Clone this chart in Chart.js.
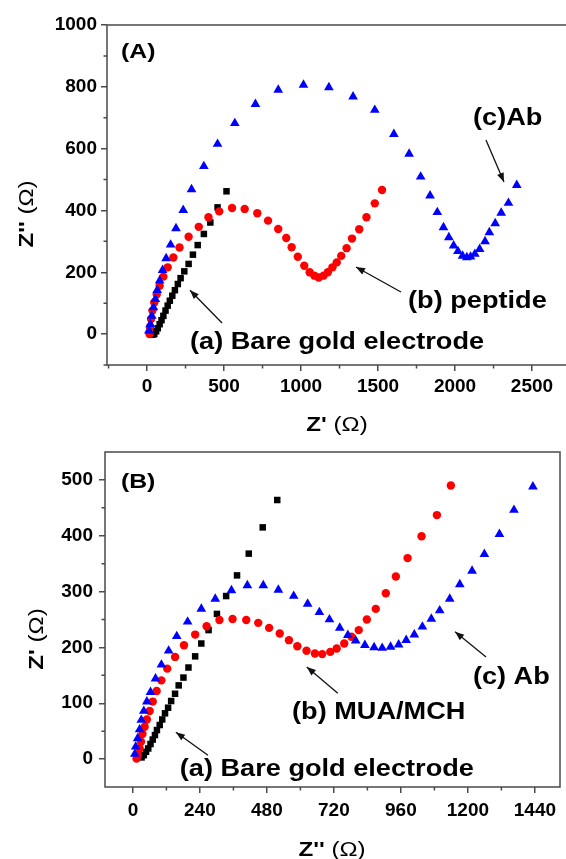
<!DOCTYPE html>
<html><head><meta charset="utf-8">
<script src="https://cdn.jsdelivr.net/npm/chart.js@4/dist/chart.umd.min.js"></script>
<style>
html,body{margin:0;padding:0;background:#fff;overflow:hidden;width:566px;height:859px;position:relative;}
#ca{position:absolute;left:0;top:0;}
#cb{position:absolute;left:0;top:430px;}
</style></head><body>
<canvas id="ca" width="640" height="440"></canvas>
<canvas id="cb" width="566" height="429"></canvas>
<script>
// ---------- Panel (A) data: Z' (x) vs Z'' (y), ohm ----------
const A_bare_x = [35,47,59,70,82,94,106,120,134,148,164,181,200,218,242,270,298,329,369,411,458,516];
const A_bare_y = [-2,0,9,19,32,45,59,76,92,108,124,142,162,181,203,227,257,288,324,361,410,462];
const A_pep_x = [16,19,26,35,47,63,82,106,134,171,211,270,336,399,469,552,634,716,786,852,904,939,979,1021,1056,1087,1115,1146,1174,1204,1232,1261,1296,1331,1378,1425,1479,1526];
const A_pep_y = [0,22,49,76,102,129,156,186,216,248,280,315,347,378,397,408,405,391,367,340,311,281,250,221,200,189,183,189,200,216,232,253,278,309,339,378,423,466];
const A_ab_x = [12,21,31,42,54,66,82,101,124,153,188,235,289,369,458,570,704,852,1016,1181,1338,1479,1603,1702,1777,1838,1885,1925,1960,1991,2019,2049,2077,2101,2129,2160,2195,2223,2261,2300,2347,2401];
const A_ab_y = [11,32,59,86,113,142,173,207,245,289,342,401,468,543,615,682,744,790,806,798,768,725,647,583,509,448,394,345,313,286,268,253,248,250,259,275,300,329,358,392,424,482];
const A_xTicks = [0,500,1000,1500,2000,2500];
const A_xMinor = [-250,250,750,1250,1750,2250,2750];
const A_yTicks = [0,200,400,600,800,1000];
const A_yMinor = [-100,100,300,500,700,900];

// ---------- Panel (B) data ----------
const B_bare_x = [31,39,47,55,63,71,79,86,96,105,115,126,137,151,164,181,199,223,245,271,301,334,373,415,465,517];
const B_bare_y = [3,7,13,19,27,35,43,52,61,71,82,92,104,117,132,146,164,184,207,231,260,292,329,368,415,464];
const B_mua_x = [13,17,24,29,34,42,50,60,71,85,102,123,151,183,223,264,310,357,406,449,488,526,559,589,622,652,678,707,730,757,783,809,838,870,906,942,984,1034,1089,1139];
const B_mua_y = [1,7,19,31,45,58,71,86,103,122,141,162,183,204,223,238,249,251,249,244,235,225,213,202,194,189,188,192,198,207,219,231,250,269,297,327,360,399,437,490];
const B_ab_x = [7,10,17,24,30,39,50,63,81,102,128,157,196,245,295,353,410,467,521,576,626,668,704,741,770,798,831,864,893,923,952,979,1008,1037,1069,1099,1135,1171,1215,1259,1313,1365,1433];
const B_ab_y = [9,22,37,53,70,86,103,120,144,169,194,220,246,269,287,302,311,311,303,292,278,263,250,235,222,212,204,200,199,201,205,213,223,237,251,266,287,313,337,367,403,446,488];
const B_xTicks = [0,240,480,720,960,1200,1440];
const B_xMinor = [120,360,600,840,1080,1320];
const B_yTicks = [0,100,200,300,400,500];
const B_yMinor = [50,150,250,350,450];

const FAM = '"Liberation Sans", Arial, Helvetica, sans-serif';
const pts = (xs, ys) => xs.map((v, i) => ({x: v, y: ys[i]}));

function drawArrow(ctx, x1, y1, x2, y2) {
  ctx.beginPath(); ctx.moveTo(x1, y1); ctx.lineTo(x2, y2); ctx.stroke();
  const a = Math.atan2(y2 - y1, x2 - x1), L = 9, W = 3.5;
  ctx.beginPath(); ctx.moveTo(x2, y2);
  ctx.lineTo(x2 - L * Math.cos(a) + W * Math.sin(a), y2 - L * Math.sin(a) - W * Math.cos(a));
  ctx.lineTo(x2 - L * Math.cos(a) - W * Math.sin(a), y2 - L * Math.sin(a) + W * Math.cos(a));
  ctx.closePath(); ctx.fill();
}
function drawMixed(ctx, parts, cx, cy, rot, sx) {
  ctx.save(); ctx.translate(cx, cy); if (rot) ctx.rotate(rot); ctx.scale(sx, 1);
  let w = 0; parts.forEach(p => { ctx.font = p.font; w += ctx.measureText(p.text).width; });
  let x = -w / 2; ctx.textBaseline = 'alphabetic'; ctx.textAlign = 'left';
  parts.forEach(p => { ctx.font = p.font; ctx.fillText(p.text, x, 0); x += ctx.measureText(p.text).width; });
  ctx.restore();
}
function decor(cfg) {
  return { id: 'decor', afterDraw(chart) {
    const ctx = chart.ctx, ca = chart.chartArea, xs = chart.scales.x, ys = chart.scales.y;
    ctx.save();
    ctx.strokeStyle = '#4a4a4a'; ctx.lineWidth = 1.5;
    ctx.strokeRect(ca.left, ca.top, ca.right - ca.left, ca.bottom - ca.top);
    ctx.beginPath();
    cfg.xMinor.forEach(v => { const p = xs.getPixelForValue(v); ctx.moveTo(p, ca.bottom); ctx.lineTo(p, ca.bottom + 3.5); });
    cfg.yMinor.forEach(v => { const p = ys.getPixelForValue(v); ctx.moveTo(ca.left, p); ctx.lineTo(ca.left - 3.5, p); });
    ctx.stroke();
    ctx.fillStyle = '#000';
    const t = cfg.titles;
    drawMixed(ctx, t.x.parts, t.x.cx, t.x.cy, 0, 1.15);
    drawMixed(ctx, t.y.parts, t.y.cx, t.y.cy, -Math.PI / 2, 1.15);
    ctx.strokeStyle = '#111'; ctx.fillStyle = '#111'; ctx.lineWidth = 1.3;
    cfg.arrows.forEach(a => drawArrow(ctx, xs.getPixelForValue(a[0]), ys.getPixelForValue(a[1]), xs.getPixelForValue(a[2]), ys.getPixelForValue(a[3])));
    ctx.fillStyle = '#000'; ctx.textBaseline = 'alphabetic'; ctx.textAlign = 'left';
    cfg.labels.forEach(l => {
      ctx.save(); ctx.translate(xs.getPixelForValue(l.x), ys.getPixelForValue(l.y)); ctx.scale(1.18, 1);
      ctx.font = 'bold ' + l.size + 'px ' + FAM; ctx.fillText(l.text, 0, 0); ctx.restore();
    });
    ctx.restore();
  }};
}
function scaleOpts(ticks, fit, pad, isX, min, max) {
  return {
    type: 'linear', min: min, max: max,
    afterBuildTicks: s => { s.ticks = ticks.map(v => ({value: v})); },
    afterFit: s => { if (isX) s.height = fit; else s.width = fit; },
    grid: { display: true, drawOnChartArea: false, drawTicks: true, tickLength: 6, color: '#4a4a4a', lineWidth: 1.5 },
    border: { display: false },
    ticks: { color: '#000', padding: pad, font: { family: FAM, size: 19, weight: 'bold' }, callback: v => String(v) }
  };
}
function build(id, sets, o) {
  new Chart(document.getElementById(id), {
    type: 'scatter',
    data: { datasets: [
      { data: pts(sets[2][0], sets[2][1]), pointStyle: 'triangle', radius: 5.6, backgroundColor: '#0000ff', borderColor: '#0000ff', borderWidth: 0 },
      { data: pts(sets[1][0], sets[1][1]), pointStyle: 'circle', radius: 4.2, backgroundColor: '#ff0000', borderColor: '#ff0000', borderWidth: 0 },
      { data: pts(sets[0][0], sets[0][1]), pointStyle: 'rect', radius: 4.6, backgroundColor: '#000', borderColor: '#000', borderWidth: 0 }
    ]},
    options: {
      responsive: false, animation: false, events: [],
      layout: { padding: o.padding },
      plugins: { legend: { display: false }, tooltip: { enabled: false } },
      scales: {
        x: scaleOpts(o.xTicks, o.xFit, o.xPad, true, o.xMin, o.xMax),
        y: scaleOpts(o.yTicks, o.yFit, o.yPad, false, o.yMin, o.yMax)
      }
    },
    plugins: [decor(o)]
  });
}
const bold = s => 'bold ' + s + 'px ' + FAM, reg = s => s + 'px ' + FAM;

build('ca', [[A_bare_x, A_bare_y], [A_pep_x, A_pep_y], [A_ab_x, A_ab_y]], {
  padding: { top: 25, right: 31, left: 0, bottom: 0 },
  xMin: -260, xMax: 3000, yMin: -100, yMax: 1000,
  xTicks: A_xTicks, yTicks: A_yTicks, xMinor: A_xMinor, yMinor: A_yMinor,
  xFit: 75, yFit: 107, xPad: 4, yPad: 4,
  titles: {
    x: { parts: [{text: "Z'", font: bold(21)}, {text: ' (\u03A9)', font: reg(21)}], cx: 337, cy: 431 },
    y: { parts: [{text: "Z''", font: bold(21)}, {text: ' (\u03A9)', font: reg(21)}], cx: 33, cy: 214 }
  },
  arrows: [[2201, 628, 2318, 492], [1649, 136, 1357, 217], [487, 36, 279, 142]],
  labels: [
    { text: '(A)', x: -169, y: 893, size: 21 },
    { text: '(c)Ab', x: 2117, y: 676, size: 23 },
    { text: '(b) peptide', x: 1695, y: 84, size: 23 },
    { text: '(a) Bare gold electrode', x: 279, y: -49, size: 23 }
  ]
});
build('cb', [[B_bare_x, B_bare_y], [B_mua_x, B_mua_y], [B_ab_x, B_ab_y]], {
  padding: { top: 22, right: 6, left: 0, bottom: 0 },
  xMin: -100, xMax: 1530, yMin: -50, yMax: 550,
  xTicks: B_xTicks, yTicks: B_yTicks, xMinor: B_xMinor, yMinor: B_yMinor,
  xFit: 72, yFit: 105, xPad: 6, yPad: 6,
  titles: {
    x: { parts: [{text: "Z''", font: bold(21)}, {text: ' (\u03A9)', font: reg(21)}], cx: 332, cy: 426 },
    y: { parts: [{text: "Z'", font: bold(21)}, {text: ' (\u03A9)', font: reg(21)}], cx: 43, cy: 209 }
  },
  arrows: [[1265, 183, 1154, 228], [734, 118, 623, 165], [269, 7, 154, 48]],
  labels: [
    { text: '(B)', x: -43, y: 486, size: 21 },
    { text: '(c) Ab', x: 1218, y: 134, size: 23 },
    { text: '(b) MUA/MCH', x: 570, y: 72, size: 23 },
    { text: '(a) Bare gold electrode', x: 168, y: -30, size: 23 }
  ]
});
</script>
</body></html>
